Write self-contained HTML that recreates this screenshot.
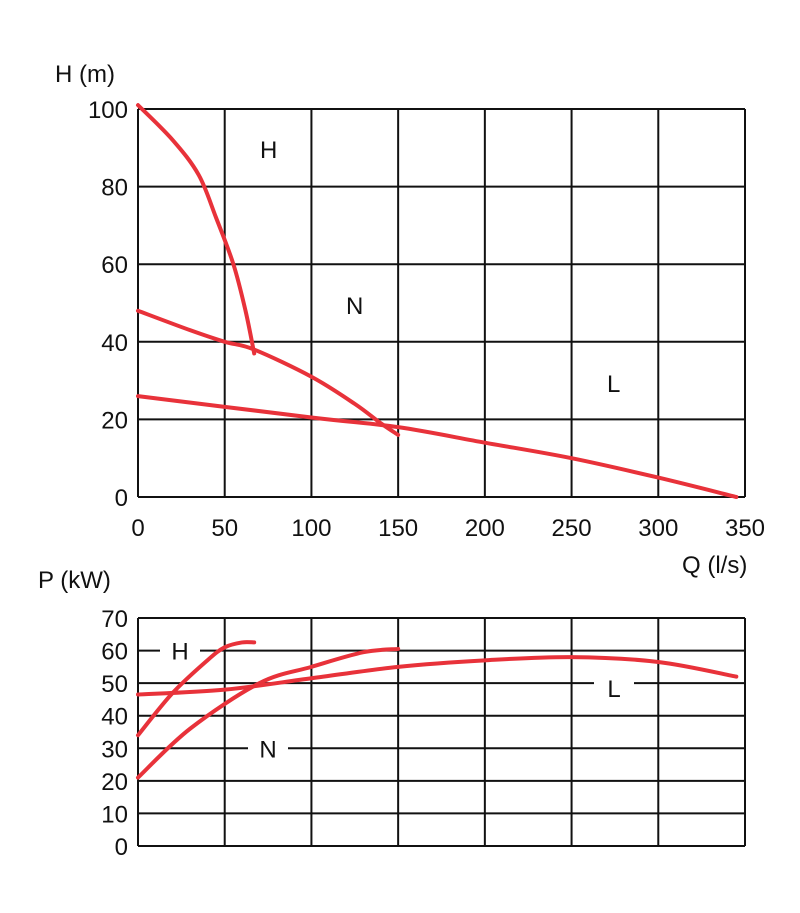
<!DOCTYPE html>
<html><head><meta charset="utf-8"><style>
body{margin:0;background:#fff}
svg{display:block}
text{font-family:"Liberation Sans",sans-serif;font-size:24px;fill:#111}
</style></head><body>
<svg id="s" width="800" height="913" viewBox="0 0 800 913"></svg>
<script>
const qTicks=[0,50,100,150,200,250,300,350];
const hTicks=[0,20,40,60,80,100];
const pTicks=[0,10,20,30,40,50,60,70];
const headH=[[0,101],[20,92],[35,83],[45,72],[55,60],[62,48],[67,37]];
const headN=[[0,48],[30,43],[50,40],[67,38],[100,31],[125,24],[140,19],[150,16]];
const headL=[[0,26],[100,20.5],[150,18],[200,14],[250,10],[300,5],[345,0]];
const powH=[[0,34],[20,47],[40,57],[50,61],[60,62.5],[67,62.5]];
const powN=[[0,21],[30,36],[70,50],[100,55],[130,59.5],[150,60.5]];
const powL=[[0,46.5],[50,48],[100,51.5],[150,55],[200,57],[250,58],[300,56.5],[345,52]];
const NS="http://www.w3.org/2000/svg",svg=document.getElementById('s');
const X=q=>138+q*(745-138)/350;
const YT=h=>497-h*(497-109)/100;
const YB=p=>846-p*(846-618)/70;
function el(t,a,name,txt){const e=document.createElementNS(NS,t);for(const k in a)e.setAttribute(k,a[k]);


if(txt!==undefined)e.textContent=txt;svg.appendChild(e);return e;}
function grid(Y,ticks,pre){
 ticks.forEach(t=>{el('line',{x1:X(0),x2:X(350),y1:Y(t),y2:Y(t),stroke:'#111','stroke-width':2},pre+'-gridline-y');
  el('text',{x:128,y:Y(t)+9,'text-anchor':'end'},pre+'-y-tick',String(t));});
 qTicks.forEach(q=>el('line',{x1:X(q),x2:X(q),y1:Y(ticks[ticks.length-1]),y2:Y(0),stroke:'#111','stroke-width':2},pre+'-gridline-x'));
}
function curve(d,Y,name){
 const p=d.map(v=>[X(v[0]),Y(v[1])]);let s='M'+p[0];
 for(let i=0;i<p.length-1;i++){const p0=p[i-1]||p[i],p1=p[i],p2=p[i+1],p3=p[i+2]||p2;
  s+=' C'+(p1[0]+(p2[0]-p0[0])/6)+','+(p1[1]+(p2[1]-p0[1])/6)+' '+(p2[0]-(p3[0]-p1[0])/6)+','+(p2[1]-(p3[1]-p1[1])/6)+' '+p2;}
 el('path',{d:s,fill:'none',stroke:'#e8323a','stroke-width':4,'stroke-linecap':'round'},name);
}
grid(YT,hTicks,'head');
qTicks.forEach(q=>el('text',{x:X(q),y:536,'text-anchor':'middle'},'x-tick',String(q)));
el('text',{x:55,y:82},'head-axis-title','H (m)');
el('text',{x:682,y:573},'x-axis-title','Q (l/s)');
el('text',{x:260,y:158},'label-h-top','H');
el('text',{x:346,y:314},'label-n-top','N');
el('text',{x:607,y:392},'label-l-top','L');
curve(headH,YT,'head-curve-h');curve(headN,YT,'head-curve-n');curve(headL,YT,'head-curve-l');
grid(YB,pTicks,'power');
el('text',{x:38,y:588},'power-axis-title','P (kW)');
[[180,YB(60),'H'],[268,YB(30),'N'],[614,YB(50),'L']].forEach(l=>{
 el('rect',{x:l[0]-20,y:l[1]-5,width:40,height:10,fill:'#fff'},'label-bg');
 el('text',{x:l[0],y:l[1]+ (l[2]==='L'?14:9),'text-anchor':'middle'},'label-'+l[2].toLowerCase()+'-bottom',l[2]);});
curve(powH,YB,'power-curve-h');curve(powN,YB,'power-curve-n');curve(powL,YB,'power-curve-l');
</script>
</body></html>
